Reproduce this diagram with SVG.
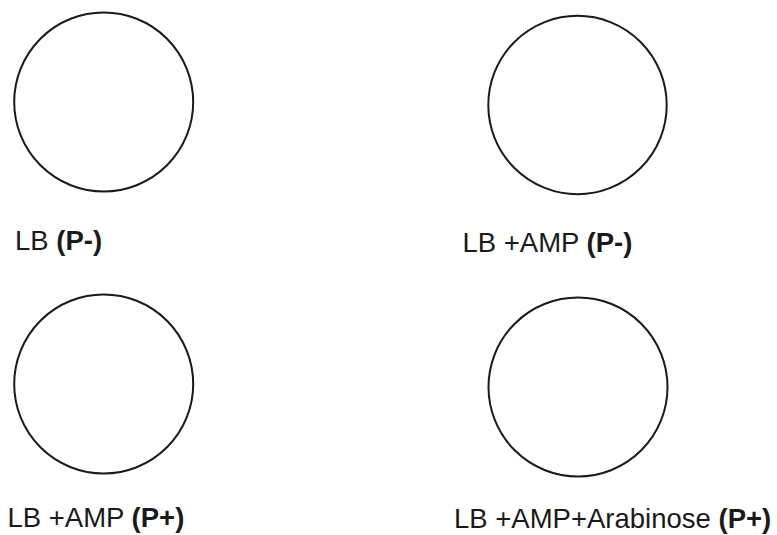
<svg xmlns="http://www.w3.org/2000/svg" width="777" height="535" viewBox="0 0 777 535">
<style>
.plate{fill:#fff;stroke:#1a1a1a;stroke-width:2}
.lbl{font-family:"Liberation Sans",Arial,sans-serif;font-size:27.5px;fill:#1a1a1a}
.b{font-weight:bold}
</style>
<rect width="777" height="535" fill="#fff"/>
<g id="plate-lb">
<circle class="plate" cx="103.7" cy="102" r="89.5"/>
<text class="lbl" x="15" y="250">LB <tspan class="b">(P-)</tspan></text>
</g>
<g id="plate-lb-amp-pminus">
<circle class="plate" cx="577.5" cy="105" r="89.2"/>
<text class="lbl" x="462.5" y="252">LB +AMP <tspan class="b">(P-)</tspan></text>
</g>
<g id="plate-lb-amp-pplus">
<circle class="plate" cx="103.7" cy="384" r="89.5"/>
<text class="lbl" x="7.5" y="527">LB +AMP <tspan class="b">(P+)</tspan></text>
</g>
<g id="plate-lb-amp-ara-pplus">
<circle class="plate" cx="578" cy="387" r="89.5"/>
<text class="lbl" x="454" y="528">LB +AMP+Arabinose <tspan class="b">(P+)</tspan></text>
</g>
<g id="connectors"/>
</svg>
